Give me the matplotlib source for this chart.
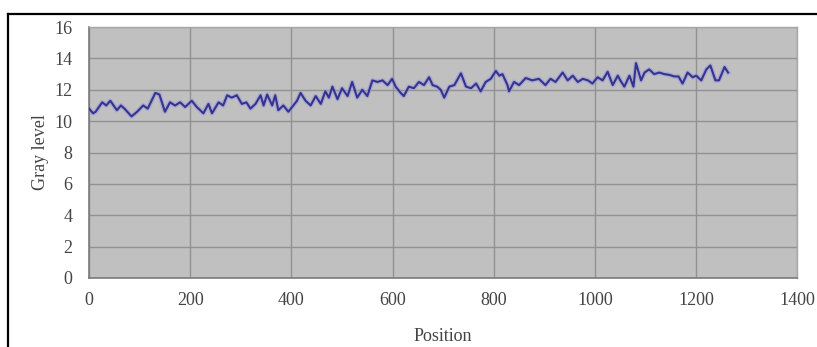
import matplotlib.pyplot as plt
from matplotlib.lines import Line2D

# Gray level profile along the scan line
positions = [
    0, 8, 13, 26, 34, 42, 55, 63, 70, 84, 95, 107, 116, 131, 139, 150, 160, 170,
    180, 190, 203, 213, 226, 236, 243, 256, 265, 273, 282, 292, 302, 311, 319,
    329, 339, 345, 352, 362, 368, 374, 384, 394, 411, 418, 428, 438, 448, 458,
    467, 474, 481, 491, 500, 511, 520, 530, 540, 550, 560, 570, 580, 590, 599,
    606, 616, 622, 632, 642, 652, 662, 672, 679, 688, 695, 702, 712, 722, 735,
    745, 755, 765, 774, 784, 794, 804, 811, 817, 827, 830, 840, 850, 863, 876,
    889, 902, 912, 922, 936, 946, 956, 966, 976, 986, 995, 1005, 1015, 1025,
    1035, 1045, 1050, 1058, 1068, 1076, 1081, 1091, 1098, 1107, 1117, 1127,
    1137, 1147, 1157, 1165, 1173, 1183, 1193, 1200, 1210, 1220, 1228, 1238,
    1245, 1256, 1263,
]
gray_level = [
    10.8, 10.5, 10.6, 11.2, 11.0, 11.3, 10.7, 11.0, 10.8, 10.3, 10.6, 11.0, 10.8,
    11.8, 11.7, 10.6, 11.2, 11.0, 11.2, 10.9, 11.3, 10.9, 10.5, 11.1, 10.5, 11.2,
    11.0, 11.65, 11.5, 11.65, 11.1, 11.2, 10.8, 11.1, 11.65, 11.0, 11.7, 11.0,
    11.65, 10.7, 11.0, 10.6, 11.3, 11.8, 11.3, 11.0, 11.6, 11.1, 11.9, 11.5, 12.2,
    11.4, 12.1, 11.6, 12.5, 11.5, 12.0, 11.6, 12.6, 12.5, 12.6, 12.3, 12.7, 12.2,
    11.8, 11.6, 12.2, 12.1, 12.5, 12.3, 12.8, 12.3, 12.2, 12.0, 11.5, 12.2, 12.3,
    13.05, 12.2, 12.1, 12.4, 11.9, 12.5, 12.7, 13.2, 12.9, 13.0, 12.3, 11.9, 12.5,
    12.3, 12.75, 12.6, 12.7, 12.3, 12.7, 12.5, 13.1, 12.6, 12.9, 12.5, 12.7, 12.6,
    12.4, 12.8, 12.6, 13.15, 12.3, 12.9, 12.6, 12.2, 12.9, 12.2, 13.7, 12.6, 13.1,
    13.3, 13.0, 13.1, 13.0, 12.95, 12.85, 12.85, 12.4, 13.1, 12.8, 12.9, 12.6,
    13.3, 13.55, 12.6, 12.6, 13.45, 13.1,
]

x_ticks = [0, 200, 400, 600, 800, 1000, 1200, 1400]
y_ticks = [0, 2, 4, 6, 8, 10, 12, 14, 16]

plt.rcParams["font.family"] = ["Liberation Serif", "DejaVu Serif"]
text_color = "#444444"

fig = plt.figure(figsize=(8.17, 3.47), dpi=100)
ax = fig.add_axes([0.109, 0.199, 0.867, 0.723])
ax.set_facecolor("#c0c0c0")

# soft halo under the trace, then the trace itself
ax.plot(positions, gray_level, color="#9c98d8", linewidth=3.4, alpha=0.6,
        solid_joinstyle="round", zorder=2)
ax.plot(positions, gray_level, color="#34348f", linewidth=1.5,
        solid_joinstyle="round", zorder=3)

ax.set_xlim(0, 1400)
ax.set_ylim(0, 16)
ax.set_xticks(x_ticks)
ax.set_yticks(y_ticks)
ax.grid(True, color="#929292", linewidth=1.0)
ax.set_axisbelow(True)
ax.tick_params(length=0, labelsize=13, labelcolor=text_color)
ax.tick_params(axis="x", pad=10)
ax.tick_params(axis="y", pad=12)

for side in ["left", "bottom"]:
    ax.spines[side].set_color("#7a7a7a")
    ax.spines[side].set_linewidth(1.2)
for side in ["top", "right"]:
    ax.spines[side].set_color("#a8a8a8")
    ax.spines[side].set_linewidth(1.0)

ax.set_xlabel("Position", fontsize=13, color=text_color, labelpad=14)
ax.set_ylabel("Gray level", fontsize=13, color=text_color, labelpad=4)

# black frame along the top and left edges of the figure
fig.add_artist(Line2D([7.5 / 817, 1.0], [1 - 14 / 347, 1 - 14 / 347],
                      color="black", linewidth=1.6, transform=fig.transFigure))
fig.add_artist(Line2D([8 / 817, 8 / 817], [0.0, 1 - 14 / 347],
                      color="black", linewidth=1.6, transform=fig.transFigure))

fig.savefig("out.png", dpi=100)
